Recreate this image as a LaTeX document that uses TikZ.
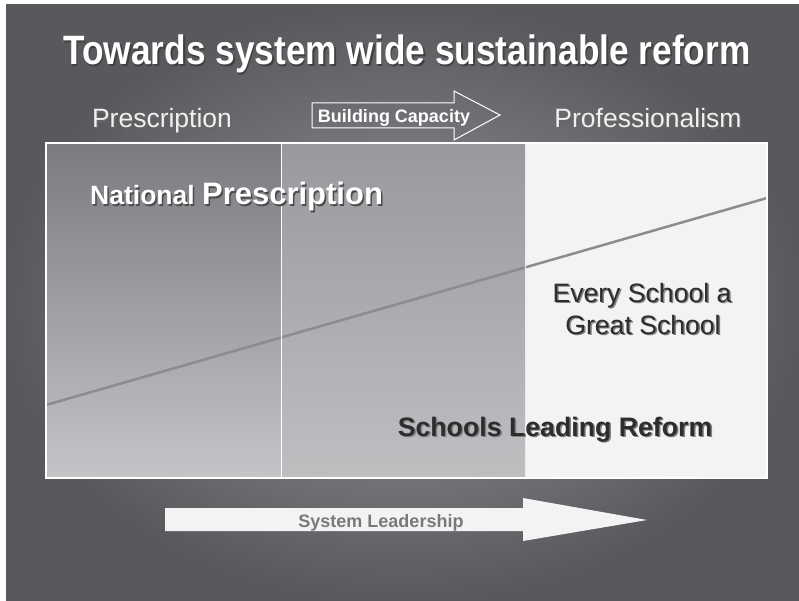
\documentclass[tikz,border=0pt]{standalone}
\usepackage{fontspec}
\setmainfont{Liberation Sans}
\newfontfamily\narrowsans[FakeStretch=0.86]{Liberation Sans}
\usepackage{tikz}
\definecolor{bgouter}{RGB}{88,89,93}
\definecolor{bginner}{RGB}{150,151,155}
\definecolor{lefttop}{RGB}{122,123,128}
\definecolor{leftbot}{RGB}{196,197,199}
\definecolor{midtop}{RGB}{152,153,157}
\definecolor{midbot}{RGB}{190,191,193}
\definecolor{profpanel}{RGB}{242,243,243}
\definecolor{darktext}{RGB}{45,45,48}
\newcommand{\withshadow}[2]{\leavevmode\rlap{\kern1.5pt\raisebox{-1.5pt}{\textcolor{#1}{#2}}}#2}
\tikzset{
    titletext/.style={text=white, font=\narrowsans\bfseries\fontsize{41}{45}\selectfont, anchor = base},
    stagetext/.style={text=gray!12, font=\fontsize{26.5}{30}\selectfont, anchor = base},
    paneltext/.style={text=darktext, font=\fontsize{26.6}{30}\selectfont, anchor = base},
    arrowtext/.style={font=\bfseries\fontsize{18}{21}\selectfont, anchor = base},
}

\begin{document}
\begin{tikzpicture}[x=1pt, y=-1pt]
\useasboundingbox (0,0) rectangle (799,601);
\fill[white] (0,0) rectangle (799,601);
\shade[inner color=bginner, outer color=bgouter] (6,5) rectangle (799,601);

\shade[top color=lefttop, bottom color=leftbot] (46,143) rectangle (281,478);
\shade[top color=midtop, bottom color=midbot] (281,143) rectangle (525,478);
\fill[profpanel] (525,143) rectangle (767,478);
\coordinate (low) at (46,405);
\coordinate (high) at (767,198);
\draw[gray!90, line width=2.5] (low) -- (high);
\draw[white!85!gray, line width=1] (525,143) -- (525,478);
\draw[white, line width=1] (281,143) -- (281,478);
\draw[white, line width=2] (46,143) rectangle (767,478);

\node[titletext] (title) at (407,65) {\withshadow{black!75}{Towards system wide sustainable reform}};
\node[stagetext] (presc) at (162,128) {\withshadow{black!60}{Prescription}};
\node[stagetext] (prof) at (648,128) {\withshadow{black!60}{Professionalism}};

\draw[white, line width=1] (312,103) -- (454,103) -- (454,91) -- (500,115) -- (454,140) -- (454,128) -- (312,128) -- cycle;
\node[arrowtext, text=white] (build) at (394,123) {Building Capacity};

\node[anchor = base west, inner sep=0, text=white, font=\bfseries] (natl) at (90,205)
    {\withshadow{black!70}{\fontsize{26.5}{30}\selectfont National \fontsize{31}{35}\selectfont Prescription}};
\node[paneltext] (every) at (642,302) {\withshadow{gray}{Every School a}};
\node[paneltext] (great) at (643,334) {\withshadow{gray}{Great School}};
\node[paneltext, font=\bfseries\fontsize{26.7}{30}\selectfont] (lead) at (555,436) {\withshadow{gray}{Schools Leading Reform}};

\fill[profpanel] (165,508) -- (523,508) -- (523,498) -- (647,520) -- (523,541) -- (523,531) -- (165,531) -- cycle;
\node[arrowtext, text=gray!95!black] (syslead) at (381,527) {System Leadership};
\end{tikzpicture}
\end{document}
